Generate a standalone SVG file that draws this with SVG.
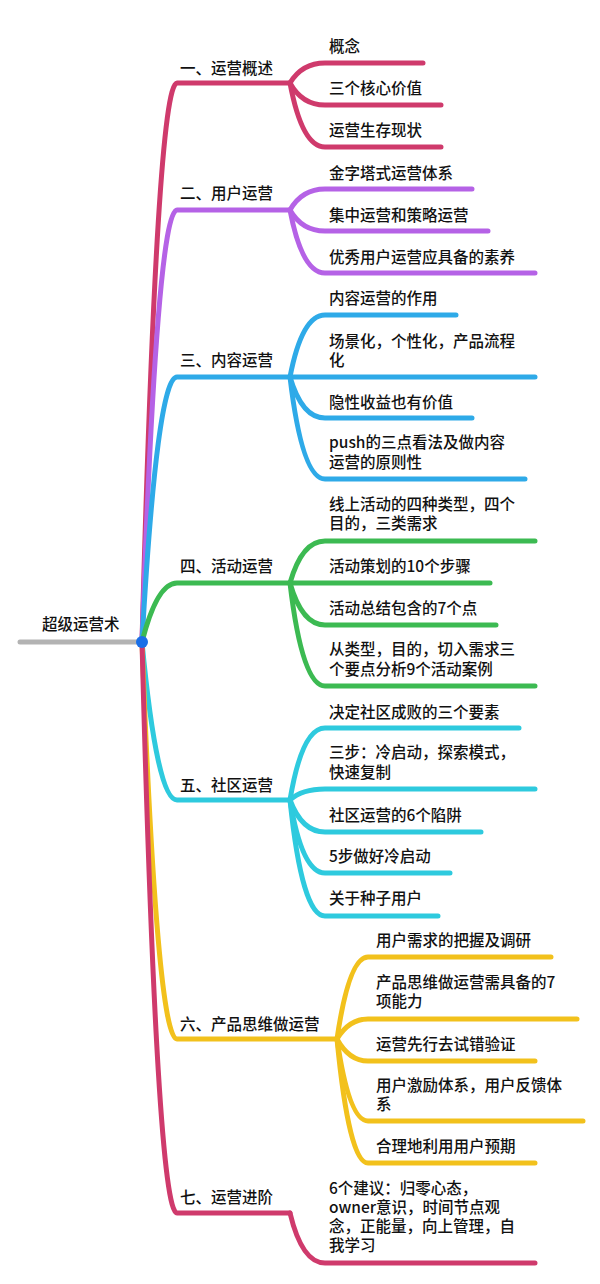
<svg xmlns="http://www.w3.org/2000/svg" width="600" height="1284" viewBox="0 0 600 1284">
<style>
text{font-family:"Noto Sans CJK SC","Noto Sans",sans-serif;font-size:15.5px;font-weight:500;fill:#111}
.c{fill:none;stroke-width:5;stroke-linecap:round;stroke-linejoin:round}
.r{stroke:#cf3a6c}.p{stroke:#b562e6}.b{stroke:#2eaae8}.g{stroke:#3cba52}.cy{stroke:#2ecade}.y{stroke:#f2c11c}
</style>
<rect width="600" height="1284" fill="#fff"/>
<g id="connectors">
<line x1="20" y1="642" x2="142" y2="642" stroke="#b3b3b3" stroke-width="5" stroke-linecap="round"/>
<path class="c r" d="M142,642 Q157,83 177,83 L290,83"/>
<path class="c r" d="M290,83 Q302,63 325,63 L423,63"/>
<path class="c r" d="M290,83 Q302,105 325,105 L441,105"/>
<path class="c r" d="M290,83 Q302,147 325,147 L441,147"/>
<path class="c p" d="M142,642 Q157,210 177,210 L290,210"/>
<path class="c p" d="M290,210 Q302,189 325,189 L472,189"/>
<path class="c p" d="M290,210 Q302,231 325,231 L488,231"/>
<path class="c p" d="M290,210 Q302,273 325,273 L535,273"/>
<path class="c b" d="M142,642 Q157,377 177,377 L290,377"/>
<path class="c b" d="M290,377 Q302,315 325,315 L456,315"/>
<path class="c b" d="M290,377 L535,377"/>
<path class="c b" d="M290,377 Q302,418 325,418 L472,418"/>
<path class="c b" d="M290,377 Q302,479 325,479 L525,479"/>
<path class="c g" d="M142,642 Q157,583 177,583 L290,583"/>
<path class="c g" d="M290,583 Q302,541 325,541 L535,541"/>
<path class="c g" d="M290,583 L490,583"/>
<path class="c g" d="M290,583 Q302,625 325,625 L496,625"/>
<path class="c g" d="M290,583 Q302,686 325,686 L535,686"/>
<path class="c cy" d="M142,642 Q157,800 177,800 L290,800"/>
<path class="c cy" d="M290,800 Q302,728 325,728 L519,728"/>
<path class="c cy" d="M290,800 Q302,789 325,789 L535,789"/>
<path class="c cy" d="M290,800 Q302,832 325,832 L481,832"/>
<path class="c cy" d="M290,800 Q302,873 325,873 L450,873"/>
<path class="c cy" d="M290,800 Q302,916 325,916 L438,916"/>
<path class="c y" d="M142,642 Q157,1039 177,1039 L337,1039"/>
<path class="c y" d="M337,1039 Q349,957 368,957 L551,957"/>
<path class="c y" d="M337,1039 Q349,1019 368,1019 L577,1019"/>
<path class="c y" d="M337,1039 Q349,1061 368,1061 L535,1061"/>
<path class="c y" d="M337,1039 Q349,1121 368,1121 L583,1121"/>
<path class="c y" d="M337,1039 Q349,1163 368,1163 L535,1163"/>
<path class="c r" d="M142,642 Q157,1213 177,1213 L290,1213"/>
<path class="c r" d="M290,1213 Q302,1263 325,1263 L535,1263"/>
</g>
<g id="root"><text x="42" y="630">超级运营术</text><circle cx="142" cy="642" r="6" fill="#1a6fe8"/></g>
<g id="b1"><text x="180" y="73.5">一、运营概述</text></g>
<g id="b1-1"><text x="329" y="51.5">概念</text></g>
<g id="b1-2"><text x="329" y="93.5">三个核心价值</text></g>
<g id="b1-3"><text x="329" y="135.5">运营生存现状</text></g>
<g id="b2"><text x="180" y="198.5">二、用户运营</text></g>
<g id="b2-1"><text x="329" y="178.5">金字塔式运营体系</text></g>
<g id="b2-2"><text x="329" y="220.5">集中运营和策略运营</text></g>
<g id="b2-3"><text x="329" y="262.5">优秀用户运营应具备的素养</text></g>
<g id="b3"><text x="180" y="365.5">三、内容运营</text></g>
<g id="b3-1"><text x="329" y="303.5">内容运营的作用</text></g>
<g id="b3-2"><text x="329" y="347">场景化，个性化，产品流程</text><text x="329" y="366">化</text></g>
<g id="b3-3"><text x="329" y="407.5">隐性收益也有价值</text></g>
<g id="b3-4"><text x="329" y="448">push的三点看法及做内容</text><text x="329" y="467.5">运营的原则性</text></g>
<g id="b4"><text x="180" y="571.5">四、活动运营</text></g>
<g id="b4-1"><text x="329" y="510">线上活动的四种类型，四个</text><text x="329" y="529">目的，三类需求</text></g>
<g id="b4-2"><text x="329" y="571.5">活动策划的10个步骤</text></g>
<g id="b4-3"><text x="329" y="613.5">活动总结包含的7个点</text></g>
<g id="b4-4"><text x="329" y="655">从类型，目的，切入需求三</text><text x="329" y="674.5">个要点分析9个活动案例</text></g>
<g id="b5"><text x="180" y="790.5">五、社区运营</text></g>
<g id="b5-1"><text x="329" y="717.5">决定社区成败的三个要素</text></g>
<g id="b5-2"><text x="329" y="758">三步：冷启动，探索模式，</text><text x="329" y="777.5">快速复制</text></g>
<g id="b5-3"><text x="329" y="820.5">社区运营的6个陷阱</text></g>
<g id="b5-4"><text x="329" y="861.5">5步做好冷启动</text></g>
<g id="b5-5"><text x="329" y="903.5">关于种子用户</text></g>
<g id="b6"><text x="180" y="1029.5">六、产品思维做运营</text></g>
<g id="b6-1"><text x="376" y="945.5">用户需求的把握及调研</text></g>
<g id="b6-2"><text x="376" y="988">产品思维做运营需具备的7</text><text x="376" y="1007">项能力</text></g>
<g id="b6-3"><text x="376" y="1049.5">运营先行去试错验证</text></g>
<g id="b6-4"><text x="376" y="1091">用户激励体系，用户反馈体</text><text x="376" y="1110">系</text></g>
<g id="b6-5"><text x="376" y="1151.5">合理地利用用户预期</text></g>
<g id="b7"><text x="180" y="1202.5">七、运营进阶</text></g>
<g id="b7-1"><text x="329" y="1194">6个建议：归零心态，</text><text x="329" y="1213">owner意识，时间节点观</text><text x="329" y="1232">念，正能量，向上管理，自</text><text x="329" y="1251">我学习</text></g>
</svg>
